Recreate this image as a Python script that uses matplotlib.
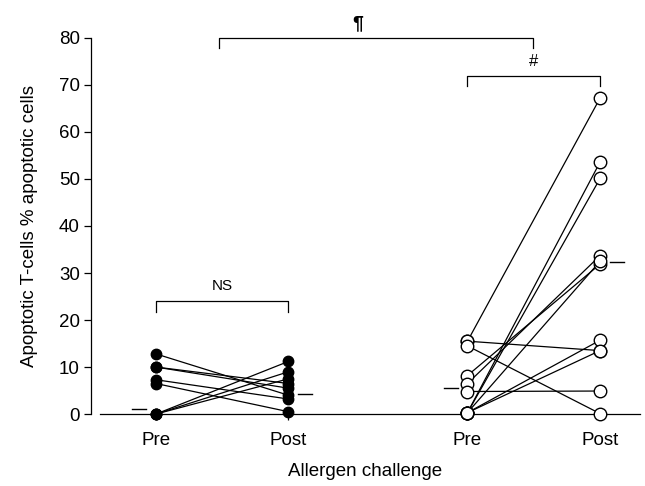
import matplotlib
matplotlib.use("Agg")
import matplotlib.pyplot as plt

plt.rcParams['font.family'] = ['Liberation Sans', 'DejaVu Sans']

# x positions of groups
x_pos = [0.0, 1.0, 2.35, 3.35]
x_labels = ["Pre", "Post", "Pre", "Post"]

# Group 1 (filled) paired values
g1_pre = [12.8, 10.0, 10.0, 7.3, 6.5, 0.0, 0.0, 0.0]
g1_post = [4.0, 6.5, 5.5, 3.2, 0.5, 11.2, 9.0, 7.5]
g1_medians = [1.0, 4.3]

# Group 2 (open) paired values
g2_pre = [15.5, 15.5, 14.5, 8.2, 6.5, 4.8, 0.3, 0.3, 0.3, 0.3, 0.3]
g2_post = [67.2, 13.5, 0.1, 31.9, 33.7, 4.9, 53.6, 50.1, 15.7, 13.5, 32.5]
g2_medians = [5.5, 32.3]

yticks = [0, 10, 20, 30, 40, 50, 60, 70, 80]

fig = plt.figure(figsize=(6.45, 4.86), dpi=100)
ax = fig.add_axes([0.141, 0.148, 0.851, 0.774])

for a, b in zip(g1_pre, g1_post):
    ax.plot([x_pos[0], x_pos[1]], [a, b], color='black', lw=0.9, zorder=2, clip_on=False)
ax.plot([x_pos[0]] * len(g1_pre), g1_pre, 'o', color='black', ms=7.5, zorder=3, clip_on=False)
ax.plot([x_pos[1]] * len(g1_post), g1_post, 'o', color='black', ms=7.5, zorder=3, clip_on=False)

for a, b in zip(g2_pre, g2_post):
    ax.plot([x_pos[2], x_pos[3]], [a, b], color='black', lw=0.9, zorder=2, clip_on=False)
ax.plot([x_pos[2]] * len(g2_pre), g2_pre, 'o', mfc='white', mec='black', mew=1.0, ms=9, zorder=3, clip_on=False)
ax.plot([x_pos[3]] * len(g2_post), g2_post, 'o', mfc='white', mec='black', mew=1.0, ms=9, zorder=3, clip_on=False)

# median dashes
off = 0.075
w = 0.105
ax.plot([x_pos[0] - off - w, x_pos[0] - off], [g1_medians[0]] * 2, color='black', lw=1)
ax.plot([x_pos[1] + off, x_pos[1] + off + w], [g1_medians[1]] * 2, color='black', lw=1)
ax.plot([x_pos[2] - off - w, x_pos[2] - off], [g2_medians[0]] * 2, color='black', lw=1)
ax.plot([x_pos[3] + off, x_pos[3] + off + w], [g2_medians[1]] * 2, color='black', lw=1)

# brackets
def bracket(x1, x2, y, drop, text, ty, tx=None, fs=10, weight='normal'):
    ax.plot([x1, x1, x2, x2], [y - drop, y, y, y - drop], color='black', lw=0.9, clip_on=False)
    if tx is None:
        tx = (x1 + x2) / 2
    ax.text(tx, ty, text, ha='center', va='center', fontsize=fs, fontweight=weight, clip_on=False)

bracket(x_pos[0], x_pos[1], 24, 2.2, "NS", 27.3, fs=11)
bracket(x_pos[2], x_pos[3], 72, 2.2, "#", 75.0, fs=12)
bracket(0.475, 2.845, 80, 2.2, "¶", 83.0, tx=1.52, fs=14, weight='bold')

ax.set_xlim(-0.49, 3.65)
ax.set_ylim(0, 80)
ax.set_yticks(yticks)
ax.set_yticklabels([str(t) for t in yticks], fontsize=13.5)
ax.set_xticks(x_pos)
ax.set_xticklabels(x_labels, fontsize=13.5)
ax.tick_params(axis='y', length=5, width=0.9, direction='out', pad=3)
ax.tick_params(axis='x', length=4, width=0.9, direction='out', pad=9)

for s in ['top', 'right']:
    ax.spines[s].set_visible(False)
ax.spines['left'].set_linewidth(0.9)
ax.spines['bottom'].set_linewidth(0.9)
ax.spines['bottom'].set_bounds(-0.42, 3.65)

ax.set_ylabel("Apoptotic T-cells % apoptotic cells", fontsize=13.5, labelpad=15)
ax.set_xlabel("Allergen challenge", fontsize=13.5, labelpad=10)

fig.savefig("out.png", dpi=100)
